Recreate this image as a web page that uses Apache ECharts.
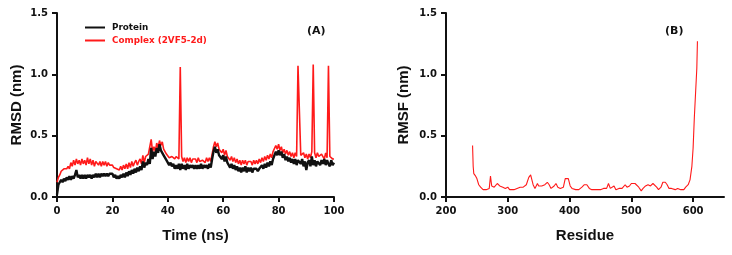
<!DOCTYPE html>
<html>
<head>
<meta charset="utf-8">
<script src="https://cdn.jsdelivr.net/npm/echarts@6/dist/echarts.min.js"></script>
<style>
html,body{margin:0;padding:0;background:#fff;}
#chart{width:732px;height:255px;}
</style>
</head>
<body>
<div id="chart"></div>
<script>
// ---- Data ----
// RMSD time sampling (ns): 0 to 100 every 0.5 ns
const timeStart = 0, timeStep = 0.5;
const rmsdProtein = [
  0.02, 0.10, 0.12, 0.14, 0.12, 0.15, 0.13, 0.16, 0.14, 0.17,
  0.14, 0.17, 0.15, 0.18, 0.22, 0.16, 0.18, 0.15, 0.18, 0.15,
  0.18, 0.15, 0.18, 0.16, 0.18, 0.15, 0.18, 0.16, 0.19, 0.16,
  0.19, 0.16, 0.19, 0.17, 0.19, 0.17, 0.19, 0.17, 0.19, 0.18,
  0.19, 0.16, 0.18, 0.15, 0.17, 0.15, 0.18, 0.16, 0.19, 0.16,
  0.20, 0.17, 0.21, 0.18, 0.22, 0.19, 0.23, 0.20, 0.24, 0.21,
  0.25, 0.22, 0.29, 0.24, 0.28, 0.26, 0.31, 0.27, 0.40, 0.31,
  0.37, 0.33, 0.40, 0.36, 0.43, 0.38, 0.39, 0.34, 0.34, 0.30,
  0.31, 0.26, 0.28, 0.25, 0.27, 0.23, 0.26, 0.23, 0.27, 0.22,
  0.27, 0.23, 0.26, 0.22, 0.27, 0.23, 0.26, 0.24, 0.26, 0.23,
  0.26, 0.23, 0.26, 0.23, 0.27, 0.23, 0.26, 0.24, 0.26, 0.23,
  0.27, 0.24, 0.31, 0.37, 0.41, 0.36, 0.39, 0.34, 0.35, 0.31,
  0.34, 0.29, 0.33, 0.28, 0.28, 0.24, 0.27, 0.23, 0.26, 0.22,
  0.25, 0.21, 0.24, 0.20, 0.24, 0.21, 0.25, 0.20, 0.24, 0.21,
  0.24, 0.20, 0.23, 0.22, 0.23, 0.21, 0.23, 0.22, 0.26, 0.23,
  0.27, 0.24, 0.28, 0.25, 0.29, 0.26, 0.31, 0.32, 0.37, 0.34,
  0.38, 0.34, 0.37, 0.32, 0.35, 0.30, 0.33, 0.29, 0.32, 0.28,
  0.31, 0.27, 0.31, 0.26, 0.30, 0.31, 0.27, 0.31, 0.25, 0.29,
  0.22, 0.28, 0.30, 0.25, 0.33, 0.26, 0.30, 0.25, 0.29, 0.30,
  0.26, 0.30, 0.27, 0.31, 0.26, 0.30, 0.27, 0.25, 0.30, 0.26,
  0.28
];
const rmsdComplex = [
  0.12, 0.16, 0.18, 0.21, 0.20, 0.23, 0.22, 0.23, 0.25, 0.23,
  0.28, 0.25, 0.30, 0.26, 0.31, 0.27, 0.30, 0.26, 0.31, 0.27,
  0.30, 0.26, 0.32, 0.27, 0.31, 0.26, 0.30, 0.25, 0.29, 0.30,
  0.26, 0.29, 0.25, 0.29, 0.26, 0.29, 0.25, 0.28, 0.26, 0.27,
  0.26, 0.24, 0.25, 0.23, 0.24, 0.22, 0.25, 0.22, 0.26, 0.23,
  0.27, 0.23, 0.28, 0.24, 0.29, 0.25, 0.28, 0.30, 0.26, 0.29,
  0.31, 0.27, 0.34, 0.28, 0.33, 0.32, 0.35, 0.34, 0.47, 0.37,
  0.41, 0.37, 0.44, 0.40, 0.46, 0.42, 0.45, 0.39, 0.39, 0.35,
  0.36, 0.32, 0.33, 0.33, 0.32, 0.31, 0.33, 0.33, 0.31, 1.06,
  0.33, 0.29, 0.32, 0.28, 0.32, 0.29, 0.32, 0.28, 0.31, 0.30,
  0.31, 0.28, 0.32, 0.29, 0.30, 0.30, 0.31, 0.28, 0.32, 0.29,
  0.32, 0.29, 0.35, 0.41, 0.45, 0.41, 0.44, 0.39, 0.40, 0.36,
  0.39, 0.34, 0.38, 0.33, 0.34, 0.30, 0.33, 0.29, 0.32, 0.28,
  0.31, 0.27, 0.30, 0.26, 0.30, 0.27, 0.30, 0.26, 0.29, 0.28,
  0.29, 0.26, 0.30, 0.27, 0.30, 0.27, 0.31, 0.28, 0.32, 0.29,
  0.33, 0.30, 0.34, 0.31, 0.35, 0.32, 0.37, 0.37, 0.42, 0.39,
  0.43, 0.38, 0.41, 0.36, 0.39, 0.35, 0.38, 0.34, 0.37, 0.33,
  0.36, 0.32, 0.36, 0.33, 1.07, 1.07, 0.34, 0.33, 0.36, 0.32,
  0.35, 0.31, 0.35, 0.32, 0.37, 1.08, 0.36, 0.32, 0.36, 0.33,
  0.34, 0.35, 0.33, 0.31, 0.36, 0.32, 1.07, 0.33, 0.34, 0.31,
  0.31
];
const rmsfResidue = [
  243, 244, 245, 248, 250, 253, 256, 260, 265, 270, 272, 274, 278, 283, 287,
  292, 296, 300, 303, 306, 310, 315, 320, 325, 330, 334, 337, 339, 341, 344,
  348, 350, 355, 360, 364, 367, 370, 375, 378, 381, 385, 390, 393, 396, 398,
  401, 404, 410, 415, 420, 424, 428, 432, 436, 440, 445, 450, 455, 460, 463,
  466, 469, 472, 475, 480, 485, 490, 493, 497, 500, 503, 506, 509, 512, 516,
  519, 523, 527, 531, 535, 538, 541, 544, 548, 551, 555, 558, 561, 565, 568,
  571, 575, 580, 585, 588, 592, 595, 598, 600, 602, 604, 606, 607
];
const rmsfValue = [
  0.42, 0.25, 0.19, 0.17, 0.15, 0.10, 0.08, 0.06, 0.06, 0.07, 0.17, 0.09, 0.08, 0.11, 0.09,
  0.08, 0.07, 0.08, 0.06, 0.07, 0.06, 0.07, 0.08, 0.08, 0.10, 0.16, 0.18, 0.17, 0.10, 0.07,
  0.11, 0.09, 0.09, 0.10, 0.12, 0.10, 0.07, 0.09, 0.11, 0.08, 0.07, 0.08, 0.15, 0.14, 0.15,
  0.09, 0.07, 0.06, 0.06, 0.08, 0.10, 0.10, 0.07, 0.06, 0.06, 0.06, 0.06, 0.07, 0.07, 0.11,
  0.07, 0.06, 0.09, 0.06, 0.07, 0.07, 0.10, 0.08, 0.09, 0.11, 0.12, 0.11, 0.12, 0.08, 0.05,
  0.07, 0.09, 0.10, 0.09, 0.11, 0.11, 0.08, 0.06, 0.08, 0.12, 0.12, 0.10, 0.07, 0.07, 0.08,
  0.06, 0.07, 0.06, 0.06, 0.08, 0.10, 0.14, 0.25, 0.40, 0.65, 0.85, 1.05, 1.27
];
const yTicks = [0, 0.5, 1.0, 1.5];
const timeTicks = [0, 20, 40, 60, 80, 100];
const residueTicks = [200, 300, 400, 500, 600];

// ---- Build ----
const pairsProtein = rmsdProtein.map((v, i) => [timeStart + i * timeStep, v]);
const pairsComplex = rmsdComplex.map((v, i) => [timeStart + i * timeStep, v]);
const pairsRmsf = rmsfResidue.map((r, i) => [r, rmsfValue[i]]);

const tickFont = {fontFamily: 'DejaVu Sans', fontWeight: 'bold', fontSize: 10, color: '#111'};
const nameFont = {fontFamily: 'Liberation Sans', fontWeight: 'bold', fontSize: 15, color: '#111'};
const axisLine = {show: true, onZero: false, lineStyle: {color: '#111', width: 2}};
const axisTick = {show: true, inside: false, length: 5, lineStyle: {color: '#111', width: 2}};
const panelTitle = {fontFamily: 'DejaVu Sans', fontWeight: 'bold', fontSize: 11, color: '#111'};

const chart = echarts.init(document.getElementById('chart'), null, {renderer: 'canvas'});
chart.setOption({
  backgroundColor: '#fff',
  animation: false,
  title: [
    {text: '(A)', left: 302, top: 21, textStyle: panelTitle},
    {text: '(B)', left: 660, top: 21, textStyle: panelTitle}
  ],
  legend: {
    data: [
      {name: 'Protein', textStyle: {color: '#111'}},
      {name: 'Complex (2VF5-2d)', textStyle: {color: '#ff1a1a'}}
    ],
    orient: 'vertical',
    left: 80, top: 17,
    itemWidth: 20, itemHeight: 2, itemGap: 2,
    icon: 'rect',
    textStyle: {fontFamily: 'DejaVu Sans', fontWeight: 'bold', fontSize: 8.8, lineHeight: 11, padding: [0, 0, 0, 2]}
  },
  grid: [
    {left: 57, right: 398, top: 13, bottom: 58},
    {left: 446, right: 8, top: 13, bottom: 58}
  ],
  xAxis: [
    {type: 'value', gridIndex: 0, min: 0, max: 100, interval: 20,
     name: 'Time (ns)', nameLocation: 'middle', nameGap: 31, nameTextStyle: nameFont,
     axisLine: axisLine, axisTick: Object.assign({customValues: timeTicks}, axisTick),
     axisLabel: Object.assign({margin: 9, customValues: timeTicks}, tickFont), splitLine: {show: false}},
    {type: 'value', gridIndex: 1, min: 200, max: 650, interval: 100,
     name: 'Residue', nameLocation: 'middle', nameGap: 31, nameTextStyle: nameFont,
     axisLine: axisLine, axisTick: Object.assign({customValues: residueTicks}, axisTick),
     axisLabel: Object.assign({margin: 9, customValues: residueTicks}, tickFont), splitLine: {show: false}}
  ],
  yAxis: [
    {type: 'value', gridIndex: 0, min: 0, max: 1.5, interval: 0.5,
     name: 'RMSD (nm)', nameLocation: 'middle', nameGap: 33, nameTextStyle: nameFont,
     axisLine: axisLine, axisTick: Object.assign({customValues: yTicks}, axisTick),
     axisLabel: Object.assign({margin: 9, customValues: yTicks, formatter: v => v.toFixed(1)}, tickFont), splitLine: {show: false}},
    {type: 'value', gridIndex: 1, min: 0, max: 1.5, interval: 0.5,
     name: 'RMSF (nm)', nameLocation: 'middle', nameGap: 35, nameTextStyle: nameFont,
     axisLine: axisLine, axisTick: Object.assign({customValues: yTicks}, axisTick),
     axisLabel: Object.assign({margin: 9, customValues: yTicks, formatter: v => v.toFixed(1)}, tickFont), splitLine: {show: false}}
  ],
  series: [
    {name: 'Complex (2VF5-2d)', type: 'line', xAxisIndex: 0, yAxisIndex: 0, data: pairsComplex,
     showSymbol: false, symbol: 'none', color: '#ff1a1a', lineStyle: {color: '#ff1a1a', width: 1.6}, z: 2},
    {name: 'Protein', type: 'line', xAxisIndex: 0, yAxisIndex: 0, data: pairsProtein,
     showSymbol: false, symbol: 'none', color: '#111', lineStyle: {color: '#111', width: 2.4}, z: 3},
    {name: 'RMSF', type: 'line', xAxisIndex: 1, yAxisIndex: 1, data: pairsRmsf,
     showSymbol: false, symbol: 'none', color: '#ff1a1a', lineStyle: {color: '#ff1a1a', width: 1.1}}
  ]
});
</script>
</body>
</html>
